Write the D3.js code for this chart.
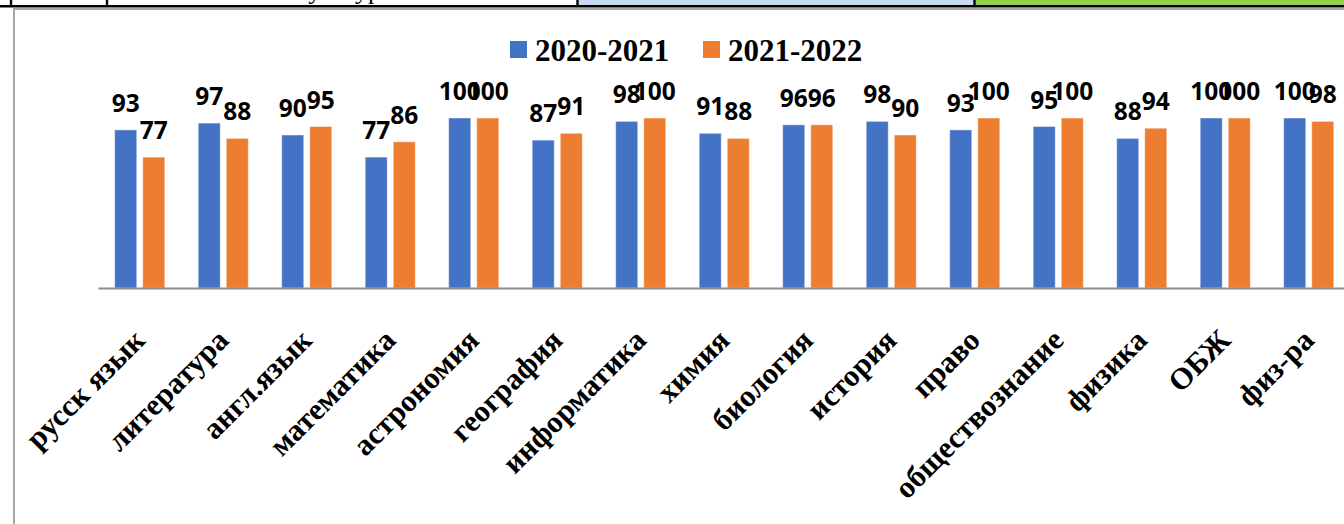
<!DOCTYPE html>
<html>
<head>
<meta charset="utf-8">
<script src="https://cdn.jsdelivr.net/npm/d3@7"></script>
<style>
  body { margin: 0; background: #fff; }
  svg { display: block; }
</style>
</head>
<body>
<div id="chart"></div>
<script>
// Chart data
var subjects = ["русск язык", "литература", "англ.язык", "математика", "астрономия",
  "география", "информатика", "химия", "биология", "история", "право",
  "обществознание", "физика", "ОБЖ", "физ-ра"];
var years = ["2020-2021", "2021-2022"];
var values2021 = [93, 97, 90, 77, 100, 87, 98, 91, 96, 98, 93, 95, 88, 100, 100];
var values2022 = [77, 88, 95, 86, 100, 91, 100, 88, 96, 90, 100, 100, 94, 100, 98];
var colors = ["#4472c4", "#ed7d31"];

var svgWidth = 1344;
var svgHeight = 524;

var svg = d3.select("#chart")
  .append("svg")
  .attr("width", svgWidth)
  .attr("height", svgHeight);

// Fragment of the table row above the chart
var table = svg.append("g").classed("table", true);
table.append("rect").attr("x", 578).attr("y", 0).attr("width", 397).attr("height", 6).attr("fill", "#c6d9f0");
table.append("rect").attr("x", 975).attr("y", 0).attr("width", 369).attr("height", 6).attr("fill", "#92d050");
table.append("rect").attr("x", 0).attr("y", 5).attr("width", svgWidth).attr("height", 2.5).attr("fill", "#000");
[11, 107, 577.5, 974.5].forEach(function(x) {
  table.append("rect").attr("x", x - 1.2).attr("y", 0).attr("width", 2.4).attr("height", 6).attr("fill", "#000");
});
table.append("text")
  .attr("x", 296)
  .attr("y", -1)
  .attr("font-family", "Liberation Serif")
  .attr("font-size", "26px")
  .text("культура");

// Chart frame
svg.append("rect")
  .attr("x", 14)
  .attr("y", 9)
  .attr("width", svgWidth)
  .attr("height", svgHeight)
  .attr("fill", "none")
  .attr("stroke", "#a6a6a6")
  .attr("stroke-width", 2);

// Scales
var baseY = 288;
var x0 = d3.scaleBand()
  .domain(subjects)
  .range([98, 1350.5])
  .paddingInner(0.4)
  .paddingOuter(0.2);

var x1 = d3.scaleBand()
  .domain(years)
  .range([0, x0.bandwidth()])
  .paddingInner(0.214);

var y = d3.scaleLinear()
  .domain([0, 100])
  .range([baseY, 118]);

var series = [values2021, values2022];

// Bars
var chartGroup = svg.append("g").classed("bars", true);
series.forEach(function(vals, si) {
  chartGroup.selectAll(".bar" + si)
    .data(vals)
    .enter()
    .append("rect")
    .attr("x", (d, i) => x0(subjects[i]) + x1(years[si]))
    .attr("y", d => y(d))
    .attr("width", x1.bandwidth())
    .attr("height", d => baseY - y(d))
    .attr("fill", colors[si])
    .attr("stroke", "#fff")
    .attr("stroke-opacity", 0.45)
    .attr("stroke-width", 1);
});

// Value labels
var labelGroup = svg.append("g").classed("labels", true);
series.forEach(function(vals, si) {
  labelGroup.selectAll(".lbl" + si)
    .data(vals)
    .enter()
    .append("text")
    .attr("x", (d, i) => x0(subjects[i]) + x1(years[si]) + x1.bandwidth() / 2)
    .attr("y", d => y(d) - 18)
    .attr("text-anchor", "middle")
    .attr("font-family", "Open Sans")
    .attr("font-weight", "bold")
    .attr("font-size", "24.5px")
    .attr("fill", "#000")
    .text(d => d);
});

// X axis
var xAxis = svg.append("g")
  .attr("transform", `translate(0, ${baseY})`)
  .call(d3.axisBottom(x0).tickSize(0).tickSizeOuter(0));

xAxis.select(".domain")
  .attr("stroke", "#8c8c8c")
  .attr("stroke-width", 2);

xAxis.selectAll(".tick text")
  .attr("x", 0)
  .attr("y", 0)
  .attr("dy", 0)
  .attr("text-anchor", "end")
  .attr("transform", "translate(7, 54) rotate(-45)")
  .attr("font-family", "Liberation Serif")
  .attr("font-weight", "bold")
  .attr("font-size", "30.5px")
  .attr("fill", "#000");

// Legend
var legend = svg.append("g").classed("legend", true);
var legendX = [510, 703];
years.forEach(function(yr, i) {
  legend.append("rect")
    .attr("x", legendX[i])
    .attr("y", 41)
    .attr("width", 17)
    .attr("height", 17)
    .attr("fill", colors[i]);
  legend.append("text")
    .attr("x", legendX[i] + 25)
    .attr("y", 61)
    .attr("font-family", "Liberation Serif")
    .attr("font-weight", "bold")
    .attr("font-size", "31px")
    .attr("fill", "#000")
    .text(yr);
});
</script>
</body>
</html>
